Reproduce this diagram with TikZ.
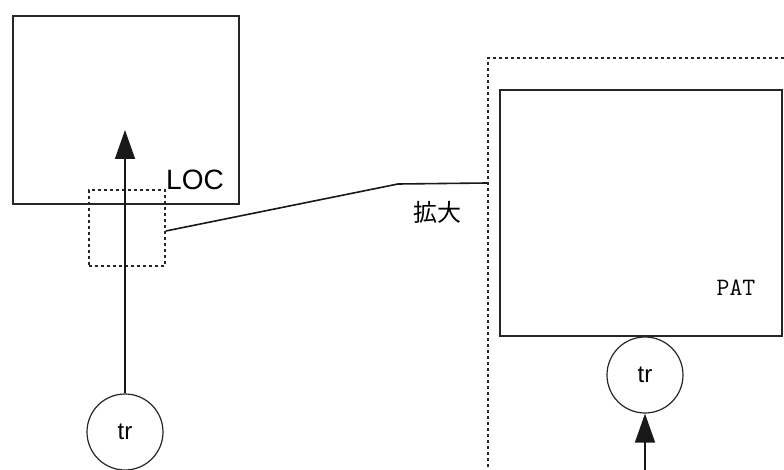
\documentclass[tikz,border=0pt]{standalone}
\usepackage{fontspec}
\setmainfont{Liberation Sans}
\newfontfamily\cjkfont{Noto Sans CJK JP}
\usetikzlibrary{arrows.meta}
\tikzset{
  boxstyle/.style={draw=black!85, line width=2pt, inner sep=0pt},
  dotbox/.style={draw=black!85, line width=1.8pt, dash pattern=on 3pt off 3pt, inner sep=0pt},
  trcircle/.style={draw=black!85, circle, line width=1.2pt, minimum size=76pt, inner sep=0pt, font=\fontsize{24pt}{24pt}\selectfont},
  conn/.style={draw=black!90, line width=1.6pt},
  arr/.style={conn, -{Triangle[length=29pt,width=20pt]}}
}
\begin{document}
\begin{tikzpicture}[x=1pt,y=-1pt]
\useasboundingbox (0,0) rectangle (784,470);
\fill[white] (0,0) rectangle (784,470);
\begin{scope}
\clip (0,0) rectangle (784,470);
% left side
\node[boxstyle, minimum width=226pt, minimum height=188pt, anchor=north west] (loc) at (12,15) {};
\node[anchor=base west, inner sep=0pt, font=\fontsize{28pt}{28pt}\selectfont] (loctext) at (166,190) {LOC};
\node[dotbox, minimum width=76pt, minimum height=76pt, anchor=north west] (zoombox) at (88,189) {};
\node[trcircle] (trl) at (125,432) {tr};
\coordinate (tipl) at (125,130);
\draw[arr] (trl.north) -- (tipl);
% connector
\coordinate (bend) at (398,184);
\node[dotbox, minimum width=330pt, minimum height=440pt, anchor=north west] (big) at (487,57) {};
\coordinate (bigin) at (487,183);
\draw[conn] (zoombox.east |- 0,231) -- (bend) -- (bigin);
\node[font=\cjkfont\fontsize{24pt}{24pt}\selectfont, inner sep=0pt] (kakudai) at (437,212) {拡大};
% right side
\node[boxstyle, minimum width=282pt, minimum height=246pt, anchor=north west] (pat) at (499,89) {};
\node[font=\ttfamily\fontsize{25pt}{25pt}\selectfont, inner sep=0pt, anchor=base] (pattext) at (736,295) {PAT};
\node[trcircle] (trr) at (645,375) {tr};
\coordinate (startr) at (645,475);
\draw[arr] (startr) -- (trr.south);
\end{scope}
\end{tikzpicture}
\end{document}
